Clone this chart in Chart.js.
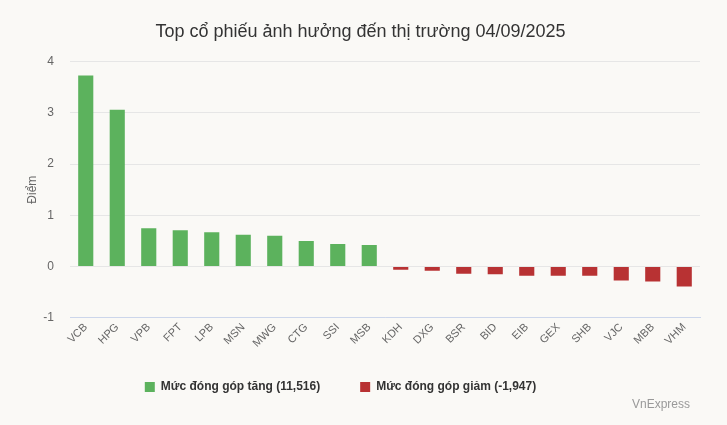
<!DOCTYPE html>
<html>
<head>
<meta charset="utf-8">
<script src="https://cdn.jsdelivr.net/npm/chart.js@4"></script>
<style>
  html, body { margin: 0; padding: 0; background: #faf9f6; }
  #wrap { position: relative; width: 727px; height: 425px; }
  #credit {
    position: absolute; right: 37px; top: 397px;
    font: 12px "Liberation Sans", Arial, sans-serif; color: #999;
  }
</style>
</head>
<body>
<div id="wrap">
  <canvas id="chart" width="727" height="425"></canvas>
  <div id="credit">VnExpress</div>
</div>
<script>
// =========================
// DATA
// =========================
const CHART_TITLE = "Top cổ phiếu ảnh hưởng đến thị trường 04/09/2025";
const symbols = ["VCB", "HPG", "VPB", "FPT", "LPB", "MSN", "MWG", "CTG", "SSI", "MSB",
                 "KDH", "DXG", "BSR", "BID", "EIB", "GEX", "SHB", "VJC", "MBB", "VHM"];
const gainValues = [3.73, 3.06, 0.75, 0.71, 0.67, 0.62, 0.60, 0.50, 0.44, 0.42,
                    null, null, null, null, null, null, null, null, null, null];
const lossValues = [null, null, null, null, null, null, null, null, null, null,
                    -0.06, -0.08, -0.14, -0.15, -0.18, -0.18, -0.18, -0.27, -0.29, -0.39];
const gainLabel = "Mức đóng góp tăng (11,516)";
const lossLabel = "Mức đóng góp giảm (-1,947)";
const yTicks = [-1, 0, 1, 2, 3, 4];

const FONT = '"Liberation Sans", Arial, sans-serif';

// legend sits a bit left of centre and closer to the axis labels than chart.js puts it
const legendNudge = {
  id: "legendNudge",
  afterLayout(chart) {
    const lg = chart.legend;
    if (!lg) return;
    lg.left -= 20;
    lg.right -= 20;
    lg.top -= 12;
    lg.bottom -= 12;
  },
};

new Chart(document.getElementById("chart"), {
  type: "bar",
  data: {
    labels: symbols,
    datasets: [
      { label: gainLabel, data: gainValues, backgroundColor: "#5cb25d" },
      { label: lossLabel, data: lossValues, backgroundColor: "#b83233" },
    ],
  },
  options: {
    responsive: false,
    animation: false,
    grouped: false,
    barPercentage: 0.48,
    categoryPercentage: 1,
    layout: { padding: { left: 21, right: 27, top: 0, bottom: 10 } },
    scales: {
      x: {
        grid: { display: false, drawTicks: false },
        border: { color: "#ccd6eb" },
        ticks: {
          color: "#666",
          padding: 3,
          font: { family: FONT, size: 11 },
          minRotation: 45,
          maxRotation: 45,
          autoSkip: false,
        },
      },
      y: {
        min: yTicks[0],
        max: yTicks[yTicks.length - 1],
        grid: { color: "#e6e6e6", drawTicks: false },
        border: { display: false },
        ticks: {
          stepSize: 1,
          color: "#666",
          padding: 16,
          font: { family: FONT, size: 12 },
        },
        title: {
          display: true,
          text: "Điểm",
          color: "#666",
          font: { family: FONT, size: 12 },
        },
        afterFit: (scale) => { scale.width = 49; },
      },
    },
    plugins: {
      title: {
        display: true,
        text: CHART_TITLE,
        color: "#333",
        font: { family: FONT, size: 18, weight: "normal" },
        padding: { top: 21, bottom: 19 },
      },
      legend: {
        position: "bottom",
        labels: {
          color: "#333",
          boxWidth: 10,
          boxHeight: 10,
          padding: 40,
          font: { family: FONT, size: 12, weight: "bold" },
        },
      },
      tooltip: { enabled: false },
    },
  },
  plugins: [legendNudge],
});
</script>
</body>
</html>
